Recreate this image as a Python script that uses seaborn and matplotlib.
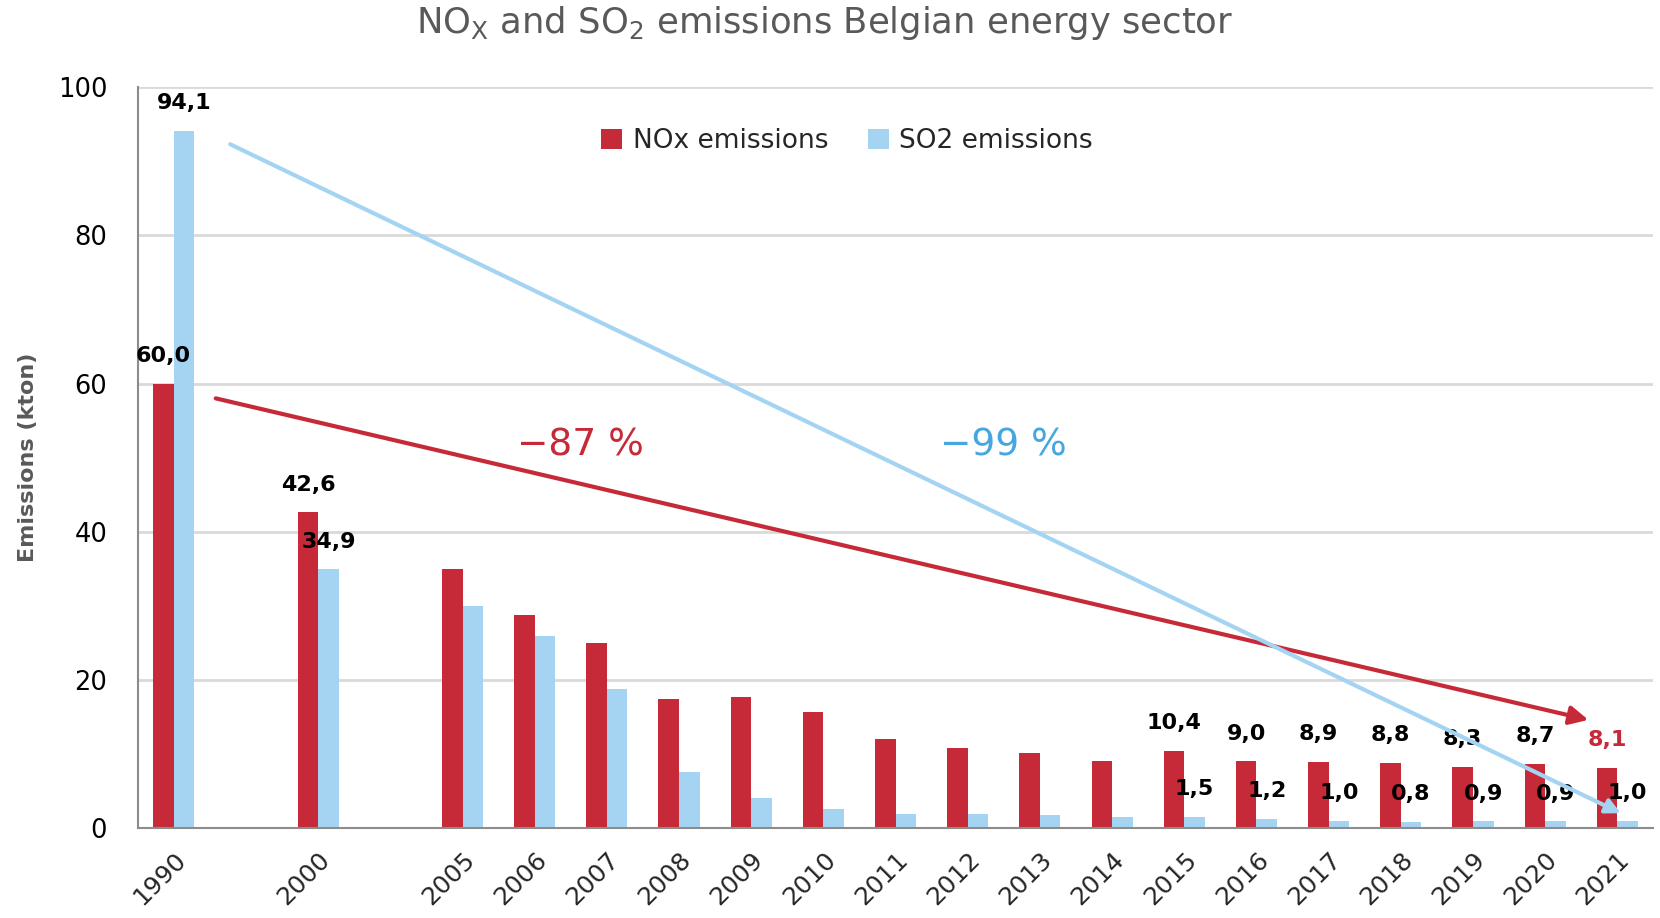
import numpy as np
import pandas as pd
import matplotlib
matplotlib.use("Agg")
import matplotlib.pyplot as plt
import matplotlib.transforms as mtransforms
import seaborn as sns

# data (kton)
years = ['1990', '2000', '2005', '2006', '2007', '2008', '2009', '2010', '2011',
         '2012', '2013', '2014', '2015', '2016', '2017', '2018', '2019', '2020', '2021']
nox = [60.0, 42.6, 35.0, 28.7, 25.0, 17.4, 17.7, 15.6, 12.0,
       10.8, 10.1, 9.0, 10.4, 9.0, 8.9, 8.8, 8.3, 8.7, 8.1]
so2 = [94.1, 34.9, 30.0, 25.9, 18.8, 7.6, 4.0, 2.6, 1.9,
       1.9, 1.8, 1.5, 1.5, 1.2, 1.0, 0.8, 0.9, 0.9, 1.0]
# empty slots between 1990-2000 and 2000-2005
order = ['1990', 'gap1', '2000', 'gap2'] + years[2:]
labelled = ['1990', '2000', '2015', '2016', '2017', '2018', '2019', '2020', '2021']
series = ['NOx emissions', 'SO2 emissions']

red = '#C62A38'
blue = '#A5D4F2'
blue_txt = '#45A6E0'
grey = '#595959'

df = pd.DataFrame({
    'year': years * 2,
    'value': nox + so2,
    'series': [series[0]] * len(years) + [series[1]] * len(years),
})

sns.set_style('white')
plt.rcParams['font.family'] = ['DejaVu Sans']

fig, ax = plt.subplots(figsize=(16.6, 9.18), dpi=100)
fig.subplots_adjust(left=0.083, right=0.996, top=0.905, bottom=0.098)

sns.barplot(data=df, x='year', y='value', hue='series', order=order,
            hue_order=series, palette=[red, blue], saturation=1,
            width=0.57, errorbar=None, linewidth=0, ax=ax)

ax.set_xlim(-0.5, len(order) - 0.5)
ax.set_ylim(0, 100)
ax.set_yticks(np.arange(0, 101, 20))
ax.tick_params(axis='y', length=0, labelsize=18.5, pad=22, labelcolor='black')
ax.yaxis.grid(True, color='#D9D9D9', lw=2)
ax.set_axisbelow(True)

# tick marks on slot boundaries, labels at slot centres
ax.set_xticks(np.arange(-0.5, len(order), 1))
ax.set_xticklabels([])
ax.tick_params(axis='x', which='major', length=10, width=1.5, color='#8C8C8C')
ax.set_xticks(np.arange(len(order)), minor=True)
ax.set_xticklabels([o if not o.startswith('gap') else '' for o in order], minor=True)
ax.tick_params(axis='x', which='minor', length=0, labelsize=18, pad=20)
offset = mtransforms.ScaledTranslation(6 / 72, 0, fig.dpi_scale_trans)
for lab in ax.get_xticklabels(minor=True):
    lab.set_rotation(45)
    lab.set_ha('right')
    lab.set_va('center')
    lab.set_rotation_mode('anchor')
    lab.set_transform(lab.get_transform() + offset)

for s in ['top', 'right']:
    ax.spines[s].set_visible(False)
for s in ['left', 'bottom']:
    ax.spines[s].set_color('#8C8C8C')
    ax.spines[s].set_linewidth(1.5)

ax.set_xlabel('')
ax.set_ylabel('Emissions (kton)', fontsize=16, fontweight='bold', color=grey)
ax.yaxis.set_label_coords(-0.066, 0.5)

# value labels
for k, cont in enumerate(ax.containers):
    for bar in cont:
        h = bar.get_height()
        if np.isnan(h):
            continue
        idx = int(round(bar.get_x() + bar.get_width() / 2))
        yr = order[idx]
        if yr not in labelled:
            continue
        col = red if (yr == '2021' and k == 0) else 'black'
        ax.annotate(f'{h:.1f}'.replace('.', ','),
                    (bar.get_x() + bar.get_width() / 2, h),
                    xytext=(0, 20), textcoords='offset points',
                    ha='center', va='center', fontsize=16,
                    fontweight='bold', color=col)

# trend arrows
ax.annotate('', xy=(19.6, 14.6), xytext=(0.58, 58.0),
            arrowprops=dict(arrowstyle='-|>', color=red, lw=3,
                            mutation_scale=28, shrinkA=0, shrinkB=0))
ax.annotate('', xy=(20.05, 2.0), xytext=(0.78, 92.3),
            arrowprops=dict(arrowstyle='-|>', color=blue, lw=3,
                            mutation_scale=22, shrinkA=0, shrinkB=0))
ax.text(5.63, 51.7, '\u221287 %', color=red, fontsize=27,
        ha='center', va='center')
ax.text(11.5, 51.7, '\u221299 %', color=blue_txt, fontsize=27,
        ha='center', va='center')

handles, labels = ax.get_legend_handles_labels()
ax.legend(handles, labels, loc='center', bbox_to_anchor=(0.468, 0.927),
          ncol=2, frameon=False, fontsize=19, handlelength=0.8,
          handleheight=0.8, handletextpad=0.4, columnspacing=1.5)

fig.text(0.497, 0.975,
         r'NO$_\mathregular{X}$ and SO$_\mathregular{2}$ emissions Belgian energy sector',
         ha='center', va='center', fontsize=25.5, color=grey, fontweight='medium')

fig.savefig('out.png', dpi=100)
